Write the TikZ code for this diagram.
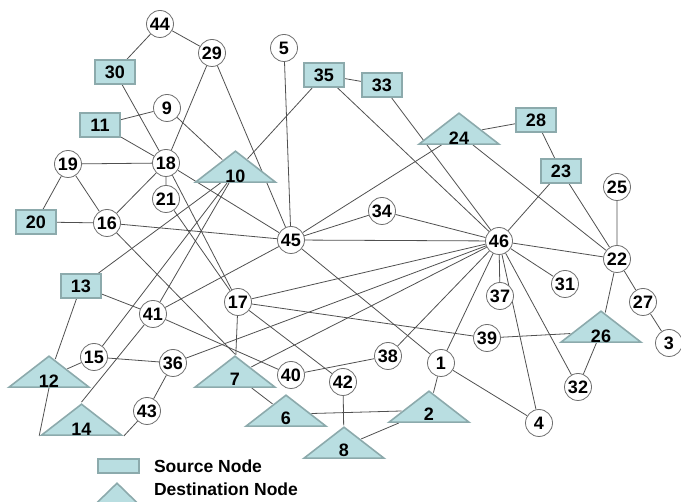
\documentclass[tikz,border=0pt]{standalone}
\usepackage{fontspec}
\setmainfont{Liberation Sans}
\usepackage{tikz}
\usetikzlibrary{positioning,shapes.geometric,calc,backgrounds}
\definecolor{nodefill}{RGB}{185,222,225}
\definecolor{nodeedge}{RGB}{140,170,172}
\definecolor{edgegray}{RGB}{80,80,80}
\definecolor{ringgray}{RGB}{110,110,110}
\newcommand{\nodefont}{\fontsize{18}{18}\selectfont\bfseries}
\newcommand{\legendfont}{\fontsize{17.5}{17.5}\selectfont\bfseries}
% label sitting low in a triangle, without changing its size
\newcommand{\dlabel}[1]{\raisebox{-10.5pt}[0pt][0pt]{#1}}
\tikzset{
    line/.style   = {draw=edgegray, line width=0.8pt},
    srcbox/.style = {draw=nodeedge, line width=1.6pt, fill=nodefill,
            minimum width=40pt, minimum height=24pt,
            inner sep=0pt, font=\nodefont},
    dsttri/.style = {isosceles triangle, isosceles triangle stretches,
            shape border rotate=90, draw=nodeedge, line width=1.6pt,
            fill=nodefill, minimum width=80pt, minimum height=31pt,
            inner sep=0pt, anchor=lower side, font=\nodefont},
    relay/.style  = {circle, draw=ringgray, line width=0.8pt, fill=white,
            minimum size=27pt, inner sep=0pt, font=\nodefont},
}

\begin{document}
\begin{tikzpicture}[x=1pt,y=-1pt]
    \useasboundingbox (0,0) rectangle (681,502);
    % Source nodes
    \node[srcbox] (n30) at (115,72) {30};
    \node[srcbox] (n11) at (100,125) {11};
    \node[srcbox] (n20) at (36,222) {20};
    \node[srcbox] (n35) at (324,75) {35};
    \node[srcbox] (n33) at (382,85) {33};
    \node[srcbox] (n28) at (536,120) {28};
    \node[srcbox] (n23) at (561,171) {23};
    \node[srcbox] (n13) at (81,286) {13};
    % Destination nodes (placed by the middle of the base)
    \node[dsttri] (n10) at (235.5,183) {\dlabel{10}};
    \node[dsttri] (n24) at (459,145) {\dlabel{24}};
    \node[dsttri] (n26) at (601,343) {\dlabel{26}};
    \node[dsttri] (n12) at (49,388) {\dlabel{12}};
    \node[dsttri] (n7) at (235,388) {\dlabel{7}};
    \node[dsttri] (n14) at (81.5,436) {\dlabel{14}};
    \node[dsttri] (n6) at (286,427) {\dlabel{6}};
    \node[dsttri] (n2) at (429,423) {\dlabel{2}};
    \node[dsttri] (n8) at (344,459) {\dlabel{8}};
    % Relay nodes
    \node[relay] (n44) at (160,24) {44};
    \node[relay] (n29) at (212,53) {29};
    \node[relay] (n5) at (284,48) {5};
    \node[relay] (n9) at (167,108) {9};
    \node[relay] (n18) at (166,163) {18};
    \node[relay] (n19) at (68,164) {19};
    \node[relay] (n21) at (166,199) {21};
    \node[relay] (n16) at (107,223) {16};
    \node[relay] (n45) at (291,240) {45};
    \node[relay] (n34) at (382,211) {34};
    \node[relay] (n46) at (499,241) {46};
    \node[relay] (n25) at (617,187) {25};
    \node[relay] (n22) at (617,259) {22};
    \node[relay] (n27) at (643,302) {27};
    \node[relay] (n3) at (669,343) {3};
    \node[relay] (n31) at (565,284) {31};
    \node[relay] (n37) at (500,296) {37};
    \node[relay] (n39) at (487,338) {39};
    \node[relay] (n17) at (238,302) {17};
    \node[relay] (n41) at (153,314) {41};
    \node[relay] (n15) at (94,357) {15};
    \node[relay] (n36) at (173,363) {36};
    \node[relay] (n40) at (291,375) {40};
    \node[relay] (n38) at (388,356) {38};
    \node[relay] (n42) at (343,382) {42};
    \node[relay] (n1) at (441,363) {1};
    \node[relay] (n4) at (539,423) {4};
    \node[relay] (n32) at (578,387) {32};
    \node[relay] (n43) at (147,411) {43};
    % Legend
    \node[srcbox, minimum width=41pt, minimum height=14pt] (legsrc) at (118.5,466) {};
    \node[right=14pt of legsrc, inner sep=0pt, font=\legendfont] (legsrctext) {Source Node};
    \node[anchor=west, inner sep=0pt, font=\legendfont] (legdsttext)
        at ($(legsrctext.west)+(0,23)$) {Destination Node};
    \node[dsttri, minimum width=41pt, minimum height=20pt] (legdst) at (117,504) {};
    % Edges
    \begin{scope}[on background layer]
        \draw[line] (n44) -- (n30) (n44) -- (n29) (n29) -- (n18) (n29) -- (n45);
        \draw[line] (n5) -- (n45) (n30) -- (n18) (n11) -- (n9) (n11) -- (n18);
        \draw[line] (n9) -- (n10) (n35) -- (n10) (n35) -- (n33) (n35) -- (n46);
        \draw[line] (n33) -- (n46) (n19) -- (n18) (n19) -- (n20) (n19) -- (n16);
        \draw[line] (n20) -- (n16) (n18) -- (n16) (n18) -- (n21) (n18) -- (n45);
        \draw[line] (n18) -- (n17) (n21) -- (n17) (n16) -- (n45) (n16) -- (n7.apex);
        \draw[line] (n10) -- (n13) (n10) -- (n15) (n10) -- (n41) (n41) -- (n14.apex);
        \draw[line] (n13) -- (n41) (n13) -- (n12) (n12) -- (n15);
        \draw[line] (n12.lower side) -- (n14.left corner) (n43) -- (n14.right corner);
        \draw[line] (n15) -- (n36) (n36) -- (n43) (n36) -- (n46);
        \draw[line] (n41) -- (n45) (n41) -- (n40) (n40) -- (n38) (n38) -- (n46);
        \draw[line] (n17) -- (n46) (n17) -- (n39) (n17) -- (n42) (n17) -- (n7);
        \draw[line] (n7) -- (n46) (n7) -- (n6) (n6) -- (n2) (n2) -- (n8) (n8) -- (n42);
        \draw[line] (n2) -- (n1) (n1) -- (n45) (n1) -- (n46) (n1) -- (n4);
        \draw[line] (n45) -- (n34) (n45) -- (n46) (n45) -- (n24) (n34) -- (n46);
        \draw[line] (n24) -- (n28) (n24) -- (n22) (n28) -- (n23) (n23) -- (n46);
        \draw[line] (n23) -- (n22) (n25) -- (n22) (n46) -- (n22) (n22) -- (n27);
        \draw[line] (n27) -- (n3) (n22) -- (n26) (n26) -- (n39) (n26) -- (n32);
        \draw[line] (n46) -- (n37) (n46) -- (n31) (n46) -- (n4) (n46) -- (n32);
    \end{scope}
\end{tikzpicture}
\end{document}
